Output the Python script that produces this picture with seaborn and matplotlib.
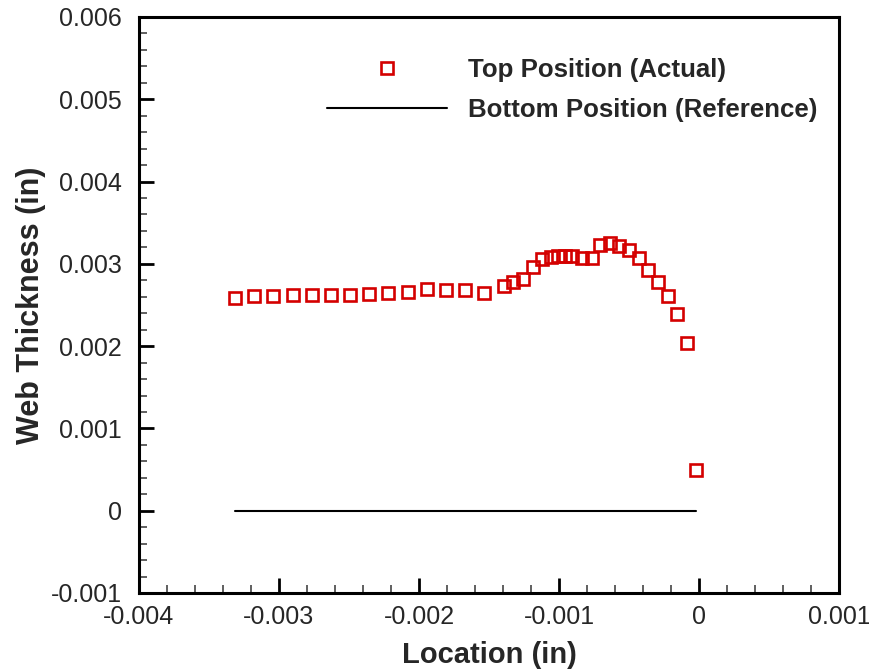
import numpy as np
import pandas as pd
import matplotlib
matplotlib.use("Agg")
import matplotlib.pyplot as plt
import seaborn as sns
from matplotlib.ticker import MultipleLocator, FuncFormatter

# ---- data ----
location = [-0.003314, -0.003179, -0.003041, -0.002902, -0.002766, -0.002631,
            -0.002493, -0.002355, -0.002219, -0.002081, -0.001945, -0.001809,
            -0.001671, -0.001534, -0.001393, -0.001326, -0.001255, -0.001188,
            -0.001119, -0.001057, -0.001005, -0.000957, -0.000909, -0.000838,
            -0.000766, -0.000707, -0.000636, -0.000569, -0.000500, -0.000429,
            -0.000362, -0.000295, -0.000224, -0.000157, -0.000088, -0.000021]
top_thickness = [0.002585, 0.002604, 0.002604, 0.002616, 0.002616, 0.002616,
                 0.002616, 0.002633, 0.002645, 0.002657, 0.002698, 0.002686,
                 0.002686, 0.002645, 0.002725, 0.002779, 0.002819, 0.002961,
                 0.003058, 0.003083, 0.003090, 0.003090, 0.003090, 0.003070,
                 0.003070, 0.003224, 0.003253, 0.003211, 0.003171, 0.003070,
                 0.002920, 0.002779, 0.002604, 0.002394, 0.002033, 0.000498]
ref_location = [-0.003314, -0.000021]
ref_thickness = [0.0, 0.0]

xticks = [-0.004, -0.003, -0.002, -0.001, 0, 0.001]
yticks = [-0.001, 0, 0.001, 0.002, 0.003, 0.004, 0.005, 0.006]
label_top = "Top Position (Actual)"
label_bottom = "Bottom Position (Reference)"

df_top = pd.DataFrame({"x": location, "y": top_thickness})
df_ref = pd.DataFrame({"x": ref_location, "y": ref_thickness})

sns.set_style("white")
plt.rcParams["font.family"] = ["Liberation Sans", "DejaVu Sans"]

red = "#d40000"
fig = plt.figure(figsize=(8.69, 6.70), dpi=100)
ax = fig.add_axes([139/869, 1-593/670, (839-139)/869, (593-17)/670])

sns.lineplot(data=df_top, x="x", y="y", ax=ax, sort=False, estimator=None,
             linestyle="", marker="s", markersize=8.5, markerfacecolor="none",
             markeredgecolor=red, markeredgewidth=1.9, color=red,
             label=label_top)
sns.lineplot(data=df_ref, x="x", y="y", ax=ax, sort=False, estimator=None,
             color="black", linewidth=1.5, label=label_bottom)

ax.set_xlim(-0.004, 0.001)
ax.set_ylim(-0.001, 0.006)
ax.set_xticks(xticks)
ax.set_yticks(yticks)
fmt = FuncFormatter(lambda v, p: "0" if abs(v) < 1e-12 else f"{v:g}")
ax.xaxis.set_major_formatter(fmt)
ax.yaxis.set_major_formatter(fmt)
ax.xaxis.set_minor_locator(MultipleLocator(0.0002))
ax.yaxis.set_minor_locator(MultipleLocator(0.0002))

ax.tick_params(axis="both", which="major", direction="in", length=10.5,
               width=2, labelsize=18, color="black")
ax.tick_params(axis="y", which="major", pad=12.5)
ax.tick_params(axis="x", which="major", pad=9)
ax.tick_params(axis="both", which="minor", direction="in", length=5.8,
               width=1.2, color="#444444")
ax.tick_params(top=False, right=False, which="both")
ax.tick_params(axis="both", which="both", left=True, bottom=True)

for s in ax.spines.values():
    s.set_linewidth(2.2)
    s.set_color("black")
    s.set_visible(True)

ax.set_xlabel("Location (in)", fontsize=21, fontweight="bold", labelpad=8)
ax.set_ylabel("Web Thickness (in)", fontsize=22, fontweight="bold", labelpad=3)

leg = ax.legend(loc="upper left", bbox_to_anchor=(327/869, 1-58/670),
                bbox_transform=fig.transFigure, frameon=False,
                borderpad=0, borderaxespad=0, handlelength=4.65,
                handletextpad=0.81, labelspacing=0.62,
                prop={"size": 18.6, "weight": "bold"})

fig.savefig("out.png", dpi=100)
